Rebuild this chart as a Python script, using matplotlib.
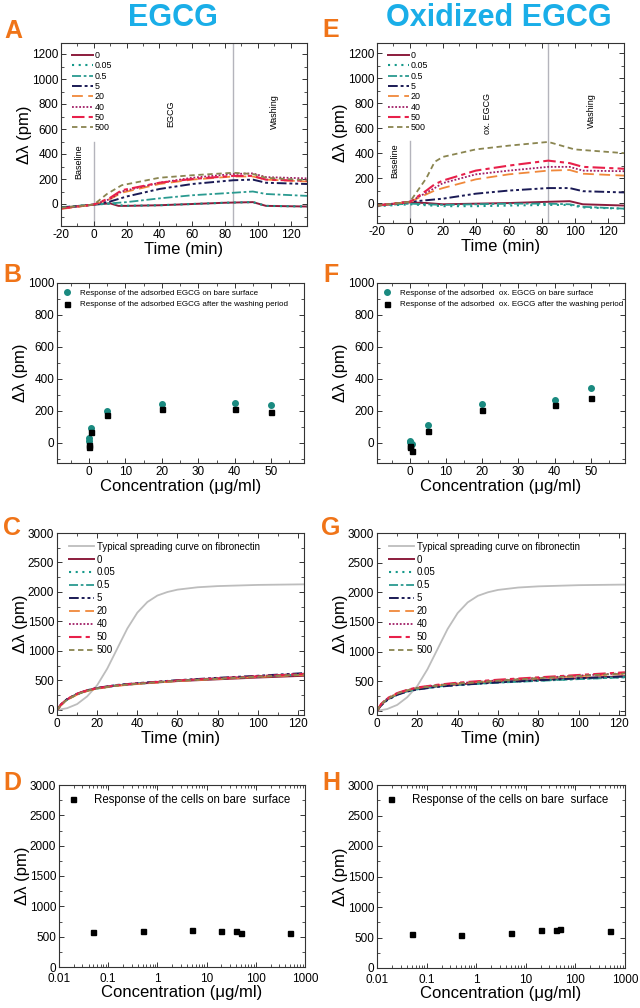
import numpy as np
import matplotlib
matplotlib.use("Agg")
import matplotlib.pyplot as plt
from matplotlib.ticker import MultipleLocator, LogLocator, FixedLocator

plt.rcParams['font.family'] = ['Liberation Sans', 'DejaVu Sans']
plt.rcParams['axes.unicode_minus'] = False

# concentrations (ug/ml) used as legend labels
conc_labels = ['0', '0.05', '0.5', '5', '20', '40', '50', '500']

# --- panel A: EGCG adsorption kinetics (time in min, shift in pm)
a_t = {
    '0':    [-20, 0, 10, 15, 20, 40, 60, 80, 97, 105, 130],
    '0.05': [-20, 0, 12, 18, 40, 60, 80, 97, 105, 130],
    '0.5':  [-20, 0, 10, 20, 40, 60, 85, 97, 105, 130],
    '5':    [-20, 0, 10, 20, 40, 60, 85, 97, 105, 130],
    '20':   [-20, 0, 10, 17, 40, 60, 85, 97, 105, 130],
    '40':   [-20, 0, 10, 17, 40, 60, 85, 97, 105, 130],
    '50':   [-20, 0, 10, 17, 40, 60, 85, 97, 105, 130],
    '500':  [-20, 0, 8, 17, 40, 60, 85, 97, 105, 130],
}
a_y = {
    '0':    [-30, -5, 5, -15, -15, -10, 0, 10, 15, -15, -20],
    '0.05': [-30, -5, 5, -15, -10, 0, 10, 15, -15, -20],
    '0.5':  [-25, -5, 5, 15, 45, 70, 90, 100, 80, 65],
    '5':    [-30, -5, 20, 60, 120, 160, 190, 195, 170, 160],
    '20':   [-40, -5, 40, 90, 160, 195, 220, 220, 195, 180],
    '40':   [-35, -5, 40, 100, 170, 210, 240, 245, 215, 205],
    '50':   [-35, -5, 50, 110, 170, 200, 225, 225, 195, 185],
    '500':  [-30, -5, 80, 150, 210, 230, 250, 240, 210, 190],
}

# --- panel E: oxidized EGCG adsorption kinetics
e_t = {
    '0':    [-20, 0, 10, 20, 40, 60, 84, 97, 105, 130],
    '0.05': [-20, 0, 20, 40, 60, 84, 97, 105, 130],
    '0.5':  [-20, 0, 20, 40, 60, 84, 97, 105, 130],
    '5':    [-20, 0, 20, 40, 60, 84, 97, 105, 130],
    '20':   [-20, 0, 15, 20, 40, 60, 84, 97, 105, 130],
    '40':   [-20, 0, 15, 20, 40, 60, 84, 97, 105, 130],
    '50':   [-20, 0, 10, 15, 20, 40, 60, 84, 97, 105, 130],
    '500':  [-20, 0, 10, 15, 20, 40, 60, 84, 100, 130],
}
e_y = {
    '0':    [-20, 5, 0, -10, -5, 0, 10, 15, -10, -20],
    '0.05': [-25, -10, -25, -25, -20, -15, -15, -35, -45],
    '0.5':  [-20, -5, -15, -10, -5, -5, -10, -30, -45],
    '5':    [-20, 10, 35, 75, 100, 120, 120, 95, 85],
    '20':   [-20, 10, 100, 120, 190, 230, 260, 265, 235, 220],
    '40':   [-20, 10, 120, 160, 230, 260, 290, 290, 260, 255],
    '50':   [-20, 10, 100, 150, 180, 260, 300, 340, 320, 290, 275],
    '500':  [-20, 10, 200, 330, 370, 430, 460, 490, 430, 400],
}

# --- panels B / F: adsorbed amount vs concentration
bf_conc = [0, 0.05, 0.5, 5, 20, 40, 50]
b_bare = [10, 30, 92, 200, 243, 252, 235]
b_wash = [-25, -15, 70, 172, 213, 215, 195]
f_bare = [10, 5, -5, 113, 245, 270, 345]
f_wash = [-20, -25, -48, 77, 207, 237, 283]

# --- panels C / G: cell spreading kinetics
fn_t = [0, 5, 10, 15, 20, 25, 30, 35, 40, 45, 50, 55, 60, 70, 80, 100, 123]
fn_y = [0, 30, 100, 230, 420, 700, 1040, 1380, 1650, 1830, 1940, 2000, 2040, 2080, 2100, 2120, 2130]
cell_t = [0, 2, 5, 10, 15, 20, 30, 40, 60, 80, 100, 123]
c_cells = {
    '0':    [0, 90, 180, 270, 330, 370, 415, 445, 490, 520, 550, 580],
    '0.05': [0, 85, 175, 265, 325, 365, 415, 445, 495, 530, 565, 600],
    '0.5':  [0, 90, 180, 270, 330, 370, 420, 450, 500, 535, 570, 605],
    '5':    [0, 95, 185, 275, 335, 375, 425, 455, 505, 545, 580, 625],
    '20':   [0, 80, 170, 260, 320, 360, 410, 440, 490, 525, 560, 595],
    '40':   [0, 90, 180, 270, 330, 370, 420, 450, 500, 540, 575, 615],
    '50':   [0, 95, 185, 275, 335, 370, 420, 450, 500, 535, 570, 610],
    '500':  [0, 85, 175, 265, 325, 365, 415, 445, 495, 530, 565, 600],
}
g_cells = {
    '0':    [0, 100, 190, 280, 335, 370, 415, 445, 490, 520, 550, 585],
    '0.05': [0, 95, 185, 275, 330, 365, 410, 440, 480, 510, 540, 570],
    '0.5':  [0, 95, 185, 275, 330, 365, 410, 435, 475, 505, 535, 565],
    '5':    [0, 90, 180, 270, 325, 360, 405, 435, 480, 515, 550, 580],
    '20':   [0, 110, 200, 290, 345, 385, 430, 460, 510, 550, 585, 625],
    '40':   [0, 110, 205, 295, 350, 390, 435, 465, 515, 555, 595, 635],
    '50':   [0, 115, 210, 300, 355, 395, 440, 475, 525, 565, 605, 650],
    '500':  [0, 110, 200, 290, 345, 385, 430, 460, 510, 550, 590, 630],
}

# --- panels D / H: cell response vs concentration (log axis)
dh_conc = [0.05, 0.5, 5, 20, 40, 50, 500]
d_resp = [575, 590, 605, 590, 590, 565, 560]
h_resp = [560, 540, 580, 630, 615, 645, 610]

styles = {
    '0':    dict(color='#8c1c3c', ls='-', lw=1.4),
    '0.05': dict(color='#15998a', ls=(0, (1, 2.2)), lw=1.5),
    '0.5':  dict(color='#2a9a90', ls=(0, (5, 1.5, 1.5, 1.5)), lw=1.3),
    '5':    dict(color='#1a1a55', ls=(0, (5, 1.5, 1.5, 1.5, 1.5, 1.5)), lw=1.4),
    '20':   dict(color='#f0883a', ls=(0, (6, 3)), lw=1.3),
    '40':   dict(color='#a01e66', ls=(0, (1, 1)), lw=1.3),
    '50':   dict(color='#e8204a', ls=(0, (6, 2, 2, 2)), lw=1.5),
    '500':  dict(color='#8a8550', ls=(0, (3, 2)), lw=1.3),
}

TITLE_C = '#1aaee8'
LETTER_C = '#f07418'
VLINE_C = '#b4b4bc'

fig = plt.figure(figsize=(6.4, 10.08), dpi=100)


def frac(x0, y0, x1, y1):
    return [x0 / 640, 1 - y1 / 1008, (x1 - x0) / 640, (y1 - y0) / 1008]


def style_axes(ax, xmaj, xmin, ymaj, ymin):
    if xmaj is not None:
        ax.xaxis.set_major_locator(MultipleLocator(xmaj))
        ax.xaxis.set_minor_locator(MultipleLocator(xmin))
    ax.yaxis.set_major_locator(MultipleLocator(ymaj))
    ax.yaxis.set_minor_locator(MultipleLocator(ymin))
    ax.tick_params(which='both', direction='in', top=True, right=True,
                   labelsize=8.5, pad=2, color='#333333')
    ax.tick_params(which='major', length=3.5, width=0.7)
    ax.tick_params(which='minor', length=2, width=0.6)
    for s in ax.spines.values():
        s.set_linewidth(0.8)
        s.set_color('#333333')
    ax.set_ylabel('Δλ (pm)', fontsize=12, labelpad=0)


def kinetics(ax, ts, ys, vx, stage):
    for c in conc_labels:
        ax.plot(ts[c], ys[c], label=c, **styles[c])
    ax.set_xlim(-20, 130)
    ax.axvline(vx, color=VLINE_C, lw=1, zorder=0)
    ax.plot([0, 0], [-300, 500], color=VLINE_C, lw=1, zorder=0)
    style_axes(ax, 20, 10, 200, 100)
    ax.set_xlabel('Time (min)', fontsize=12, labelpad=1)
    ax.text(-9, 340, 'Baseline', rotation=90, fontsize=6.5, ha='center', va='center')
    ax.text(47, 720, stage, rotation=90, fontsize=6.5, ha='center', va='center')
    ax.text(110, 740, 'Washing', rotation=90, fontsize=6.5, ha='center', va='center')
    ax.legend(loc='upper left', fontsize=6.4, frameon=False, handlelength=2.3,
              labelspacing=0.15, handletextpad=0.2, borderaxespad=0.3,
              bbox_to_anchor=(0.02, 0.99))


def adsorbed(ax, bare, wash, name, xl):
    ax.plot(bf_conc, bare, 'o', color='#1a8a80', ms=4,
            label='Response of the adsorbed %s on bare surface' % name)
    ax.plot(bf_conc, wash, 's', color='black', ms=3.6,
            label='Response of the adsorbed %s after the washing period' % name)
    ax.set_xlim(*xl)
    ax.set_ylim(-125, 1000)
    style_axes(ax, 10, 5, 200, 100)
    ax.set_xlabel('Concentration (μg/ml)', fontsize=12, labelpad=1)
    ax.legend(loc='upper left', fontsize=5.8, frameon=False, handlelength=1.0,
              handletextpad=1.0, labelspacing=0.45, borderaxespad=0.4,
              bbox_to_anchor=(0.0, 1.0))


def spreading(ax, cells, yl):
    ax.plot(fn_t, fn_y, color='#bdbdbd', lw=1.3, label='Typical spreading curve on fibronectin')
    for c in conc_labels:
        ax.plot(cell_t, cells[c], label=c, **styles[c])
    ax.set_xlim(0, 123)
    ax.set_ylim(*yl)
    style_axes(ax, 20, 10, 500, 250)
    ax.set_xlabel('Time (min)', fontsize=12, labelpad=1)
    ax.legend(loc='upper left', fontsize=7, frameon=False, handlelength=2.6,
              labelspacing=0.3, handletextpad=0.3, borderaxespad=0.3,
              bbox_to_anchor=(0.02, 0.99))


def cells_resp(ax, resp):
    ax.plot(dh_conc, resp, 's', color='black', ms=3.6,
            label='Response of the cells on bare  surface')
    ax.set_xscale('log')
    ax.set_xlim(0.01, 1000)
    ax.set_ylim(0, 3000)
    style_axes(ax, None, None, 500, 250)
    ax.xaxis.set_major_locator(FixedLocator([0.01, 0.1, 1, 10, 100, 1000]))
    ax.xaxis.set_minor_locator(LogLocator(base=10, subs=np.arange(2, 10)))
    ax.set_xticklabels(['0.01', '0.1', '1', '10', '100', '1000'])
    ax.tick_params(axis='x', which='minor', labelbottom=False)
    ax.tick_params(axis='x', which='major', pad=4)
    ax.set_xlabel('Concentration (μg/ml)', fontsize=12, labelpad=0)
    ax.legend(loc='upper left', fontsize=8.3, frameon=False, handlelength=0.8,
              handletextpad=1.4, borderaxespad=0.4, bbox_to_anchor=(0.0, 1.0))


axA = fig.add_axes(frac(61, 43, 307, 226))
kinetics(axA, a_t, a_y, 85, 'EGCG')
axA.set_ylim(-176, 1288)

axE = fig.add_axes(frac(377, 43, 624, 223))
kinetics(axE, e_t, e_y, 84, 'ox. EGCG')
axE.set_ylim(-160, 1283)

axB = fig.add_axes(frac(57, 283, 304, 463))
adsorbed(axB, b_bare, b_wash, 'EGCG', (-8.8, 59))

axF = fig.add_axes(frac(377, 283, 625, 463))
adsorbed(axF, f_bare, f_wash, ' ox. EGCG', (-9.1, 59.5))

axC = fig.add_axes(frac(57, 533, 304, 715))
spreading(axC, c_cells, (-85, 3000))

axG = fig.add_axes(frac(377, 533, 625, 715))
spreading(axG, g_cells, (-70, 3000))

axD = fig.add_axes(frac(59, 785, 305, 967))
cells_resp(axD, d_resp)

axH = fig.add_axes(frac(377, 785, 625, 968))
cells_resp(axH, h_resp)

# titles and panel letters
fig.text(173 / 640, 1 - 26 / 1008, 'EGCG', color=TITLE_C, fontsize=22,
         fontweight='bold', ha='center', va='baseline')
fig.text(499 / 640, 1 - 26 / 1008, 'Oxidized EGCG', color=TITLE_C, fontsize=22,
         fontweight='bold', ha='center', va='baseline')
for letter, x, y in [('A', 13, 38), ('E', 331, 37), ('B', 12, 282), ('F', 331, 282),
                     ('C', 12, 535), ('G', 331, 535), ('D', 12, 790), ('H', 331, 790)]:
    fig.text(x / 640, 1 - y / 1008, letter, color=LETTER_C, fontsize=18,
             fontweight='bold', ha='center', va='baseline')

fig.savefig('out.png', dpi=100)
